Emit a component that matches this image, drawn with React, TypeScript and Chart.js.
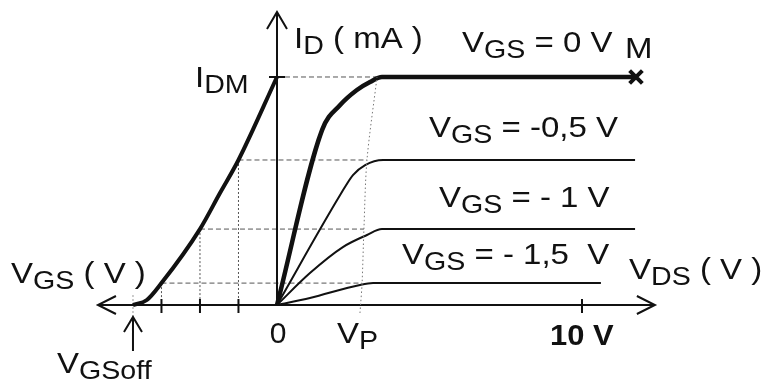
import { useEffect, useRef } from "react";
import { Chart, registerables } from "chart.js";

Chart.register(...registerables);

const FONT = '"Liberation Sans", Arial, Helvetica, sans-serif';

// Output characteristics: ID (mA, IDM = 10) versus VDS (V)
const vdsG0 = [0, 1.48, 2.07, 2.62, 3.05, 3.44, 11.77];
const idG0 = [0, 7.68, 8.77, 9.43, 9.78, 10, 10];
const vdsG05 = [0, 2.07, 2.49, 2.89, 3.48, 11.74];
const idG05 = [0, 4.82, 5.7, 6.14, 6.36, 6.36];
const vdsG1 = [0, 1.08, 2.16, 2.95, 3.44, 11.74];
const idG1 = [0, 1.4, 2.54, 3.07, 3.33, 3.33];
const vdsG15 = [0, 1.08, 2.72, 3.15, 3.48, 10.62];
const idG15 = [0, 0.31, 0.88, 0.96, 0.96, 0.96];

// Transfer characteristic: ID versus VGS (V)
const vgsT = [-1.87, -1.69, -1.5, -1, -0.74, -0.5, 0];
const idT = [0, 0.22, 0.96, 3.33, 4.91, 6.36, 10];

// Pinch-off locus (dotted)
const vpLocusX = [2.72, 2.74, 2.79, 2.85, 2.95, 3.28];
const vpLocusY = [-0.35, 0, 0.96, 3.33, 6.36, 10];

// Construction levels
const levelVgs = [-0.5, -1, -1.5];
const levelId = [6.36, 3.33, 0.96];
const levelVp = [2.95, 2.85, 2.79];
const IDM = 10;
const IDM_VP = 3.28;
const VGS_OFF = -1.87;
const VDS_TICK = 10;
const VDS_AXIS_LEFT = -5.87;
const VDS_AXIS_RIGHT = 12.39;
const ID_AXIS_TOP = 12.85;

const zip = (xs: number[], ys: number[]) => xs.map((x, i) => ({ x, y: ys[i] }));

const SX = 1.1;

function label(
  ctx: CanvasRenderingContext2D,
  x: number,
  y: number,
  main: string,
  sub: string,
  rest: string,
  size = 30,
  subSize = 26,
  dy = 6
) {
  ctx.save();
  ctx.translate(x, y);
  ctx.scale(SX, 1);
  ctx.font = `${size}px ${FONT}`;
  ctx.fillText(main, 0, 0);
  let w = ctx.measureText(main).width;
  if (sub) {
    ctx.font = `${subSize}px ${FONT}`;
    ctx.fillText(sub, w, dy);
    w += ctx.measureText(sub).width;
  }
  if (rest) {
    ctx.font = `${size}px ${FONT}`;
    ctx.fillText(rest, w, 0);
  }
  ctx.restore();
}

const drawPlugin = {
  id: "jfetDecor",
  beforeDatasetsDraw(chart: any) {
    const ctx: CanvasRenderingContext2D = chart.ctx;
    const xd = chart.scales.xd;
    const xg = chart.scales.xg;
    const ys = chart.scales.y;
    const X0 = xd.getPixelForValue(0);
    const Y0 = ys.getPixelForValue(0);
    ctx.save();
    ctx.lineCap = "butt";
    // dashed horizontal construction lines
    ctx.strokeStyle = "#555";
    ctx.lineWidth = 1;
    ctx.setLineDash([5, 3]);
    levelVgs.forEach((v, i) => {
      const y = ys.getPixelForValue(levelId[i]);
      ctx.beginPath();
      ctx.moveTo(xg.getPixelForValue(v), y);
      ctx.lineTo(xd.getPixelForValue(levelVp[i]), y);
      ctx.stroke();
    });
    const yM = ys.getPixelForValue(IDM);
    ctx.beginPath();
    ctx.moveTo(X0 + 8, yM);
    ctx.lineTo(xd.getPixelForValue(IDM_VP), yM);
    ctx.stroke();
    // dotted verticals
    ctx.setLineDash([2, 2]);
    levelVgs.forEach((v, i) => {
      const x = xg.getPixelForValue(v);
      ctx.beginPath();
      ctx.moveTo(x, ys.getPixelForValue(levelId[i]));
      ctx.lineTo(x, Y0);
      ctx.stroke();
    });
    const xOff = xg.getPixelForValue(VGS_OFF);
    ctx.strokeStyle = "#999";
    ctx.beginPath();
    ctx.moveTo(xOff, Y0 - 10);
    ctx.lineTo(xOff, Y0 + 12);
    ctx.stroke();
    ctx.setLineDash([]);

    // axes
    ctx.strokeStyle = "#111";
    ctx.lineWidth = 2;
    const xl = xd.getPixelForValue(VDS_AXIS_LEFT);
    const xr = xd.getPixelForValue(VDS_AXIS_RIGHT);
    const yt = ys.getPixelForValue(ID_AXIS_TOP);
    ctx.beginPath();
    ctx.moveTo(xl, Y0);
    ctx.lineTo(xr, Y0);
    ctx.moveTo(X0, Y0 + 1);
    ctx.lineTo(X0, yt);
    // arrow heads
    ctx.moveTo(xl + 18, Y0 - 9);
    ctx.lineTo(xl, Y0);
    ctx.lineTo(xl + 18, Y0 + 9);
    ctx.moveTo(xr - 18, Y0 - 9);
    ctx.lineTo(xr, Y0);
    ctx.lineTo(xr - 18, Y0 + 9);
    ctx.moveTo(X0 - 10, yt + 17);
    ctx.lineTo(X0, yt);
    ctx.lineTo(X0 + 10, yt + 17);
    // ticks
    levelVgs.forEach((v) => {
      const x = xg.getPixelForValue(v);
      ctx.moveTo(x, Y0 - 6);
      ctx.lineTo(x, Y0 + 8);
    });
    const x10 = xd.getPixelForValue(VDS_TICK);
    ctx.moveTo(x10, Y0 - 6);
    ctx.lineTo(x10, Y0 + 8);
    ctx.moveTo(X0 - 8, yM);
    ctx.lineTo(X0 + 8, yM);
    // VGSoff arrow
    ctx.moveTo(xOff, Y0 + 46);
    ctx.lineTo(xOff, Y0 + 12);
    ctx.moveTo(xOff - 9, Y0 + 27);
    ctx.lineTo(xOff, Y0 + 12);
    ctx.lineTo(xOff + 9, Y0 + 27);
    ctx.stroke();
    ctx.restore();
  },
  afterDraw(chart: any) {
    const ctx: CanvasRenderingContext2D = chart.ctx;
    ctx.save();
    ctx.fillStyle = "#111";
    ctx.textBaseline = "alphabetic";
    ctx.textAlign = "left";
    label(ctx, 294, 48, "I", "D", " ( mA )");
    label(ctx, 195, 87, "I", "DM", "");
    label(ctx, 462, 52, "V", "GS", " = 0 V");
    label(ctx, 625, 58, "M", "", "");
    label(ctx, 429, 137, "V", "GS", " = -0,5 V");
    label(ctx, 439, 207, "V", "GS", " = - 1 V");
    label(ctx, 402, 264, "V", "GS", " = - 1,5  V");
    label(ctx, 629, 279, "V", "DS", " ( V )");
    label(ctx, 11, 283, "V", "GS", " ( V )");
    label(ctx, 57, 373, "V", "GSoff", "");
    label(ctx, 337, 343, "V", "P", "");
    ctx.font = `30px ${FONT}`;
    ctx.textAlign = "center";
    ctx.fillText("0", 278, 343);
    ctx.textAlign = "left";
    ctx.save();
    ctx.translate(550, 345);
    ctx.scale(1.03, 1);
    ctx.font = `bold 30px ${FONT}`;
    ctx.fillText("10 V", 0, 0);
    ctx.restore();
    ctx.restore();
  },
};

export default function App() {
  const ref = useRef<HTMLCanvasElement | null>(null);
  useEffect(() => {
    if (!ref.current) return;
    const last = vdsG0.length - 1;
    const chart = new Chart(ref.current, {
      type: "line",
      data: {
        datasets: [
          {
            label: "locus",
            data: zip(vpLocusX, vpLocusY),
            xAxisID: "xd",
            yAxisID: "y",
            borderColor: "#777",
            borderWidth: 1,
            borderDash: [1.5, 2.5],
            tension: 0.3,
            pointRadius: 0,
          },
          {
            label: "VGS = -1,5 V",
            data: zip(vdsG15, idG15),
            xAxisID: "xd",
            yAxisID: "y",
            borderColor: "#111",
            borderWidth: 2,
            cubicInterpolationMode: "monotone",
            pointRadius: 0,
          },
          {
            label: "VGS = -1 V",
            data: zip(vdsG1, idG1),
            xAxisID: "xd",
            yAxisID: "y",
            borderColor: "#111",
            borderWidth: 2,
            cubicInterpolationMode: "monotone",
            pointRadius: 0,
          },
          {
            label: "VGS = -0,5 V",
            data: zip(vdsG05, idG05),
            xAxisID: "xd",
            yAxisID: "y",
            borderColor: "#111",
            borderWidth: 2,
            cubicInterpolationMode: "monotone",
            pointRadius: 0,
          },
          {
            label: "VGS = 0 V",
            data: zip(vdsG0, idG0),
            xAxisID: "xd",
            yAxisID: "y",
            borderColor: "#111",
            borderWidth: 4.5,
            cubicInterpolationMode: "monotone",
            pointStyle: "crossRot",
            pointRadius: (c: any) => (c.dataIndex === last ? 9 : 0),
            pointBorderWidth: 4,
            pointBorderColor: "#111",
          },
          {
            label: "transfer",
            data: zip(vgsT, idT),
            xAxisID: "xg",
            yAxisID: "y",
            borderColor: "#111",
            borderWidth: 4,
            cubicInterpolationMode: "monotone",
            pointRadius: 0,
          },
        ],
      },
      options: {
        responsive: false,
        animation: false,
        events: [],
        layout: { padding: 0, autoPadding: false },
        plugins: { legend: { display: false }, tooltip: { enabled: false } },
        scales: {
          xd: { type: "linear", display: false, min: -9.082, max: 16.033 },
          xg: { type: "linear", display: false, min: -3.597, max: 6.351 },
          y: { type: "linear", display: false, min: -3.509, max: 13.377 },
        },
      },
      plugins: [drawPlugin],
    } as any);
    return () => chart.destroy();
  }, []);
  return (
    <div style={{ position: "absolute", left: 0, top: 0, width: 766, height: 385, background: "#fff" }}>
      <canvas ref={ref} width={766} height={385} style={{ display: "block" }} />
    </div>
  );
}
